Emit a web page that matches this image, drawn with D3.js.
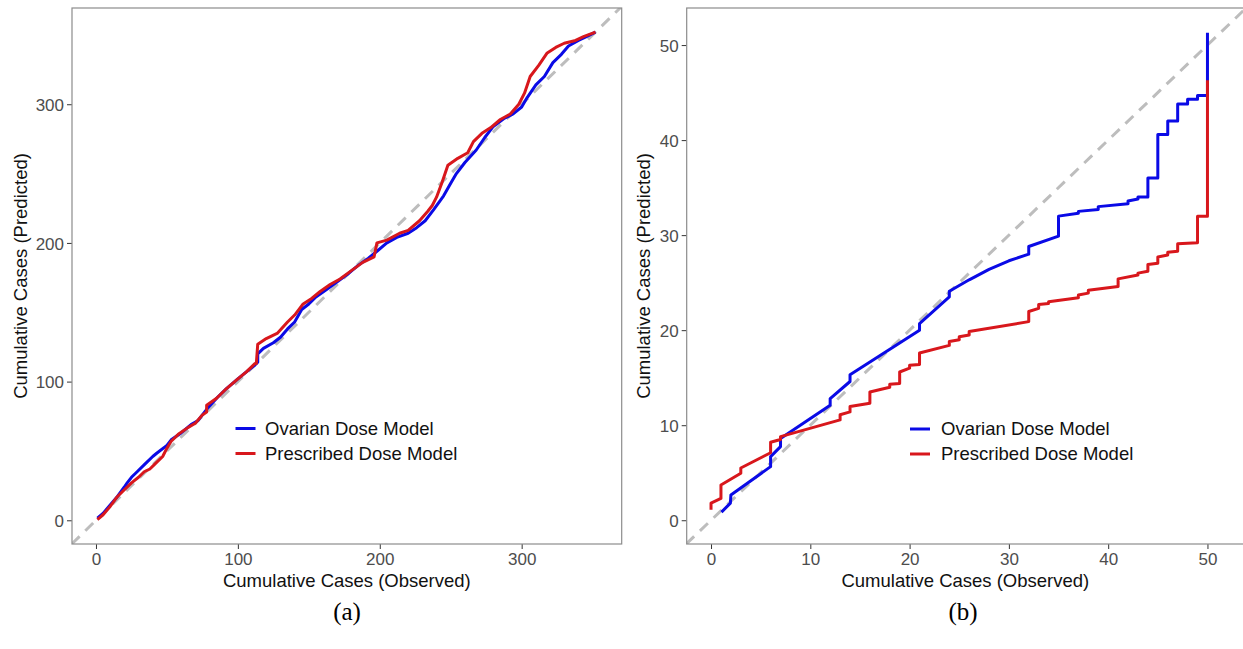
<!DOCTYPE html>
<html>
<head>
<meta charset="utf-8">
<script src="https://cdn.jsdelivr.net/npm/d3@7"></script>
<style>
  html, body { margin: 0; padding: 0; background: #ffffff; }
  svg { display: block; }
</style>
</head>
<body>
<svg id="chart" width="1243" height="649"></svg>
<script>
// ---------------- DATA ----------------
const seriesNames = ["Ovarian Dose Model", "Prescribed Dose Model"];
const seriesColors = ["#0a0ae6", "#d8171c"];

const ticksA = [0, 100, 200, 300];
const ticksB = [0, 10, 20, 30, 40, 50];

const axisTitleX = "Cumulative Cases (Observed)";
const axisTitleY = "Cumulative Cases (Predicted)";
const captions = ["(a)", "(b)"];

// Panel (a): [observed, predicted]
const ovarianA = [[1,1.5],[5,5],[10,11],[15,17],[20,24],[22,27],[25,31],[29,35],[35,41],[40,46],[43,48.5],[50,54],[53,58],[60,63],[67,69],[72,72],[78,80],[85,88],[92,95],[100,102],[106,107],[112,112],[114,114],[114,120],[118,124],[125,128],[130,132],[135,138],[140,143],[145,152],[150,156],[155,161],[162,166],[170,172],[178,178],[185,184],[192,189],[198,194],[205,200],[212,204],[220,207],[226,211],[232,216],[238,224],[245,234],[250,243],[254,250],[260,258],[268,267],[274,276],[280,284],[288,290],[294,293],[300,298],[304,305],[310,314],[316,320],[322,330],[328,336],[333,342],[340,346],[346,349],[352,352]];
const prescribedA = [[1,0.5],[5,4],[10,10],[15,17],[20,22],[25,27],[30,31],[34,35],[38,37],[42,41],[47,46],[50,52],[53,57],[58,62],[65,67],[70,70],[75,76],[78,78],[78,83],[85,88],[92,95],[100,102],[106,107],[112,113],[113,113],[114,127],[120,131],[128,135],[135,143],[140,148],[146,156],[152,160],[158,165],[165,170],[172,174],[180,180],[188,186],[196,190],[198,200],[205,202],[214,207],[220,209],[228,216],[234,223],[237,227],[240,233],[244,244],[248,256],[255,261],[262,265],[266,273],[272,279],[278,283],[285,289],[292,293],[298,300],[302,308],[306,320],[312,328],[318,337],[324,341],[330,344],[338,346],[344,349],[352,352]];

// Panel (b): [observed, predicted]
const ovarianB = [[1.05,0.85],[1.95,1.8],[2,2.66],[6,5.64],[6,6.7],[7,7.75],[7,8.6],[12,12.1],[12,12.8],[14,14.6],[14,15.3],[21,20.0],[21,20.7],[24,23.5],[24,24.1],[26,25.3],[28,26.4],[30,27.3],[32,28.0],[32,28.8],[35,29.9],[35,32.0],[37,32.3],[37,32.5],[39,32.7],[39,33.0],[42,33.3],[42,33.6],[43,33.8],[43,34.0],[44,34.0],[44,36.0],[45,36.0],[45,40.6],[46,40.6],[46,42.0],[47,42.0],[47,43.8],[48,43.8],[48,44.3],[49,44.3],[49,44.7],[50,44.7],[50,51.3]];
const prescribedB = [[0,1.1],[0,1.8],[1,2.3],[1,3.7],[3,4.95],[3,5.5],[6,7.1],[6,8.2],[7,8.5],[7,8.8],[13,10.56],[13,11.1],[14,11.4],[14,11.96],[16,12.3],[16,13.5],[18,14.0],[18,14.3],[19,14.4],[19,15.6],[20,16.0],[20,16.3],[21,16.4],[21,17.6],[24,18.4],[24,18.8],[25,19.0],[25,19.3],[26,19.5],[26,19.85],[32,20.9],[32,21.96],[33,22.3],[33,22.7],[34,22.8],[34,23.0],[37,23.4],[37,23.7],[38,23.9],[38,24.2],[41,24.6],[41,25.4],[43,25.8],[43,26.0],[44,26.2],[44,26.9],[45,27.05],[45,27.7],[46,27.9],[46,28.2],[47,28.3],[47,29.1],[49,29.2],[49,32.0],[50,32.0],[50,46.3]];

// ---------------- DRAW ----------------
const svg = d3.select("#chart");
svg.append("rect").attr("width", 1243).attr("height", 649).attr("fill", "#fff");

const FONT = "'Liberation Sans', Arial, Helvetica, sans-serif";

function panel(cfg) {
  const x = d3.scaleLinear().domain(cfg.xDomain).range([cfg.left, cfg.right]);
  const y = d3.scaleLinear().domain(cfg.yDomain).range([cfg.bottom, cfg.top]);
  const g = svg.append("g");
  const clipId = "clip" + cfg.id;
  svg.append("clipPath").attr("id", clipId).append("rect")
    .attr("x", cfg.left).attr("y", cfg.top)
    .attr("width", cfg.right - cfg.left).attr("height", cfg.bottom - cfg.top);

  // diagonal reference line
  const lo = Math.min(cfg.xDomain[0], cfg.yDomain[0]);
  const hi = Math.max(cfg.xDomain[1], cfg.yDomain[1]);
  g.append("line").attr("clip-path", `url(#${clipId})`)
    .attr("x1", x(lo)).attr("y1", y(lo)).attr("x2", x(hi)).attr("y2", y(hi))
    .attr("stroke", "#bdbdbd").attr("stroke-width", 3)
    .attr("stroke-dasharray", "11,8");

  const line = d3.line().x(d => x(d[0])).y(d => y(d[1]));
  cfg.series.forEach((s, i) => {
    g.append("path").datum(s).attr("clip-path", `url(#${clipId})`)
      .attr("d", line).attr("fill", "none")
      .attr("stroke", seriesColors[i]).attr("stroke-width", 3)
      .attr("stroke-linejoin", "round").attr("stroke-linecap", "butt");
  });

  // axes
  const xAxis = d3.axisBottom(x).tickValues(cfg.ticks).tickSize(5).tickPadding(3).tickFormat(d3.format("d"));
  const yAxis = d3.axisLeft(y).tickValues(cfg.ticks).tickSize(5).tickPadding(3).tickFormat(d3.format("d"));
  const gx = g.append("g").attr("transform", `translate(0,${cfg.bottom})`).call(xAxis);
  const gy = g.append("g").attr("transform", `translate(${cfg.left},0)`).call(yAxis);
  [gx, gy].forEach(a => {
    a.select(".domain").remove();
    a.selectAll(".tick line").attr("stroke", "#333").attr("stroke-width", 1);
    a.selectAll(".tick text").attr("fill", "#4d4d4d").attr("font-size", "17px").attr("font-family", FONT);
  });
  gx.selectAll(".tick text").attr("dy", "0.75em");
  gy.selectAll(".tick text").attr("dy", "0.36em");

  // panel border
  g.append("rect").attr("x", cfg.left).attr("y", cfg.top)
    .attr("width", cfg.right - cfg.left).attr("height", cfg.bottom - cfg.top)
    .attr("fill", "none").attr("stroke", "#8c8c8c").attr("stroke-width", 1.2);

  // axis titles
  g.append("text").attr("x", (cfg.left + cfg.right) / 2).attr("y", 587)
    .attr("text-anchor", "middle").attr("font-family", FONT).attr("font-size", "18.5px")
    .attr("fill", "#111").text(axisTitleX);
  g.append("text").attr("transform", `translate(${cfg.yTitleX},${(cfg.top + cfg.bottom) / 2}) rotate(-90)`)
    .attr("text-anchor", "middle").attr("font-family", FONT).attr("font-size", "18.5px")
    .attr("fill", "#111").text(axisTitleY);

  // legend
  seriesNames.forEach((name, i) => {
    const ly = cfg.legendY + i * 25;
    g.append("line").attr("x1", cfg.legendX).attr("x2", cfg.legendX + 20)
      .attr("y1", ly).attr("y2", ly).attr("stroke", seriesColors[i]).attr("stroke-width", 3);
    g.append("text").attr("x", cfg.legendTextX).attr("y", ly).attr("dy", "0.35em")
      .attr("font-family", FONT).attr("font-size", "18.5px").attr("fill", "#111").text(name);
  });

  // caption
  svg.append("text").attr("x", cfg.captionX).attr("y", 620).attr("text-anchor", "middle")
    .attr("font-family", "'Liberation Serif', 'Times New Roman', serif").attr("font-size", "25px")
    .attr("fill", "#000").text(cfg.caption);
}

panel({
  id: "a", left: 72, right: 621.7, top: 8, bottom: 544,
  xDomain: [-16.9, 370.5], yDomain: [-17.1, 369.4],
  ticks: ticksA, series: [ovarianA, prescribedA],
  yTitleX: 27, legendX: 235.5, legendTextX: 265, legendY: 428.5,
  captionX: 347, caption: captions[0]
});

panel({
  id: "b", left: 686.7, right: 1244, top: 8, bottom: 544,
  xDomain: [-2.45, 53.68], yDomain: [-2.5, 53.9],
  ticks: ticksB, series: [ovarianB, prescribedB],
  yTitleX: 650, legendX: 910, legendTextX: 941, legendY: 429,
  captionX: 963, caption: captions[1]
});
</script>
</body>
</html>
